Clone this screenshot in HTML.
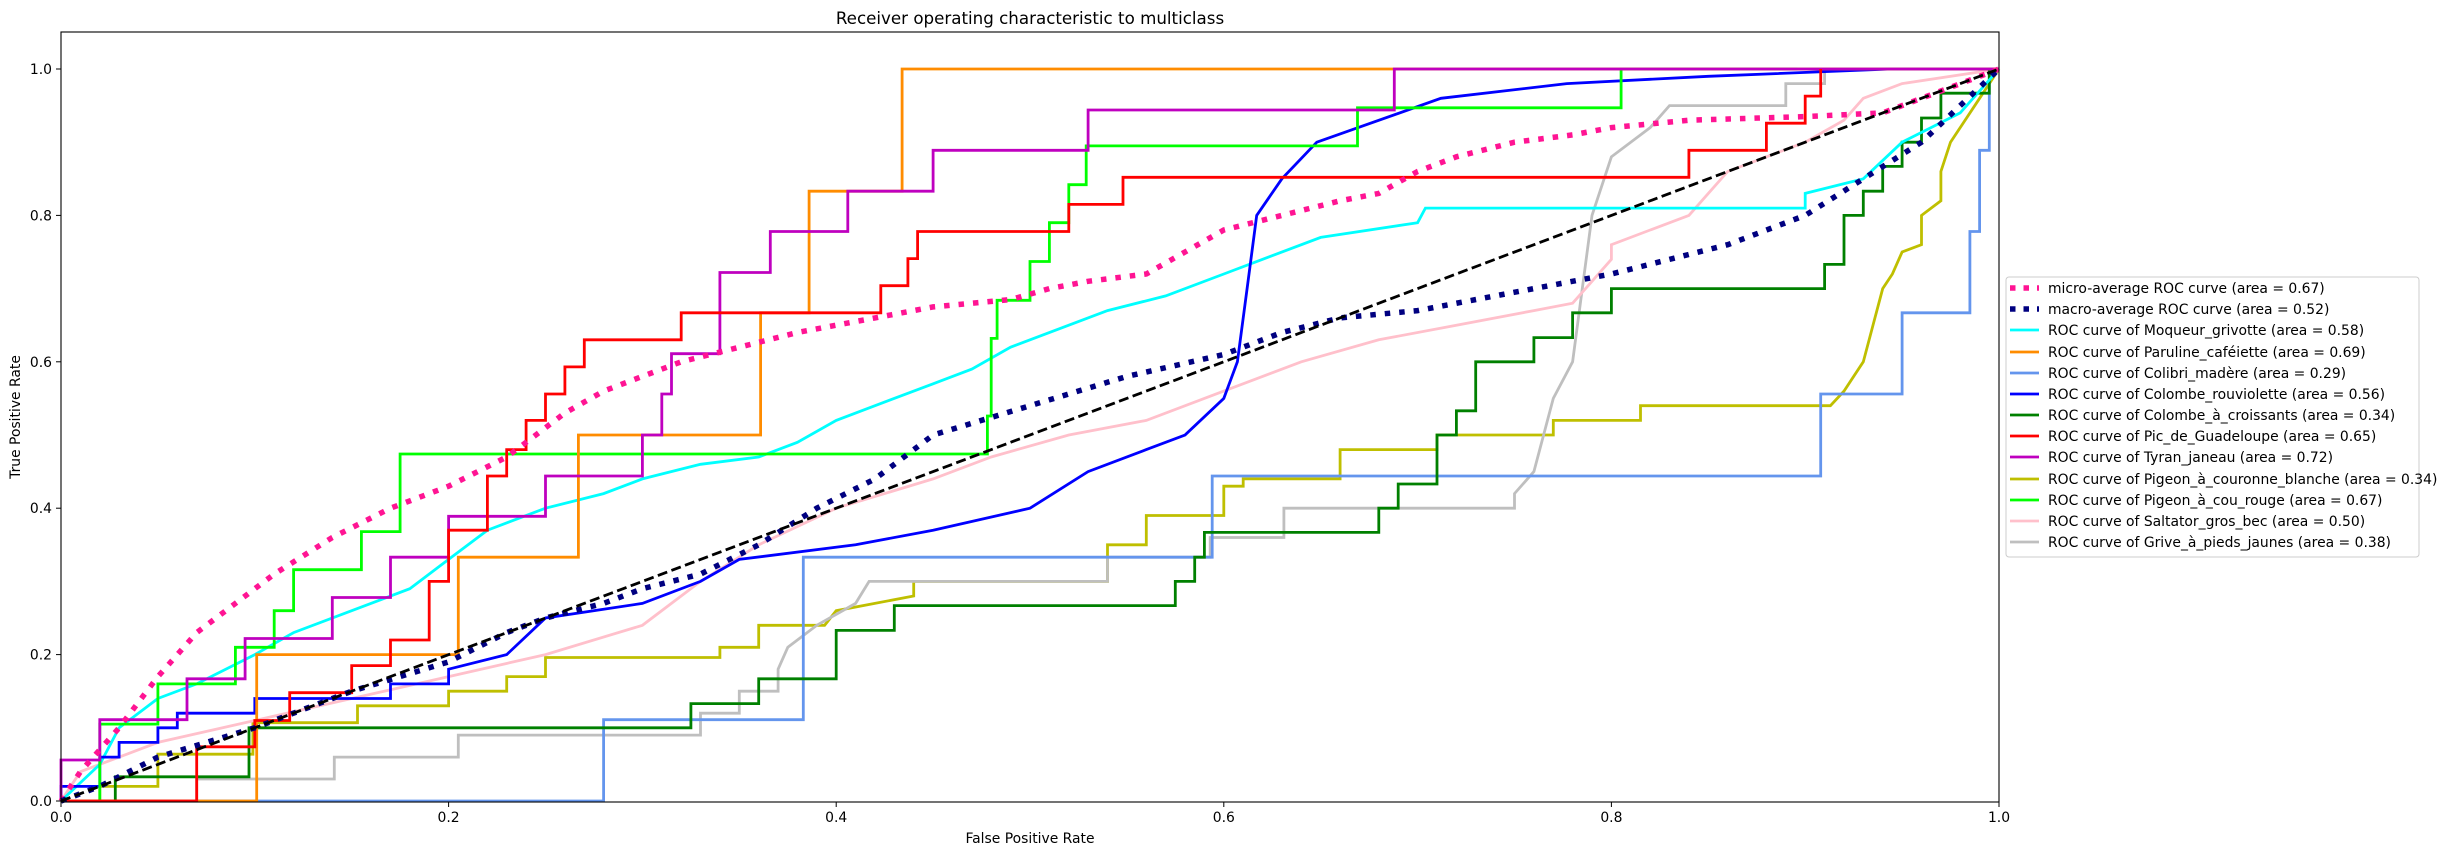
<!DOCTYPE html>
<html><head><meta charset="utf-8"><style>
body{margin:0;background:#fff;}
svg{display:block;font-family:"DejaVu Sans","Liberation Sans",sans-serif;}
</style></head><body>
<svg id="s" width="2455" height="855" xmlns="http://www.w3.org/2000/svg">
<rect width="2455" height="855" fill="#fff"/>
<text x="1030" y="24" font-size="16.7" text-anchor="middle">Receiver operating characteristic to multiclass</text>
<g id="plot"></g>
<rect x="61" y="32" width="1938" height="770" fill="none" stroke="#000" stroke-width="1.1"/>
<g font-size="13.9" fill="#000">
<g stroke="#000" stroke-width="1">
<line x1="61" y1="802" x2="61" y2="807"/><line x1="448.6" y1="802" x2="448.6" y2="807"/><line x1="836.2" y1="802" x2="836.2" y2="807"/><line x1="1223.8" y1="802" x2="1223.8" y2="807"/><line x1="1611.4" y1="802" x2="1611.4" y2="807"/><line x1="1999" y1="802" x2="1999" y2="807"/>
<line x1="56" y1="801" x2="61" y2="801"/><line x1="56" y1="654.6" x2="61" y2="654.6"/><line x1="56" y1="508.2" x2="61" y2="508.2"/><line x1="56" y1="361.8" x2="61" y2="361.8"/><line x1="56" y1="215.4" x2="61" y2="215.4"/><line x1="56" y1="69" x2="61" y2="69"/>
</g>
<g text-anchor="middle"><text x="61" y="822">0.0</text><text x="448.6" y="822">0.2</text><text x="836.2" y="822">0.4</text><text x="1223.8" y="822">0.6</text><text x="1611.4" y="822">0.8</text><text x="1999" y="822">1.0</text></g>
<g text-anchor="end"><text x="52" y="806">0.0</text><text x="52" y="659.6">0.2</text><text x="52" y="513.2">0.4</text><text x="52" y="366.8">0.6</text><text x="52" y="220.4">0.8</text><text x="52" y="74">1.0</text></g>
<text x="1030" y="843" text-anchor="middle">False Positive Rate</text>
<text transform="translate(20,417) rotate(-90)" text-anchor="middle">True Positive Rate</text>
</g>
<rect x="2006" y="277" width="413" height="280" rx="3" fill="#fff" fill-opacity="0.8" stroke="#ccc" stroke-width="1"/>
<g id="leg"></g>
<g font-size="13.9" fill="#000">
<text x="2048" y="293">micro-average ROC curve (area = 0.67)</text>
<text x="2048" y="314">macro-average ROC curve (area = 0.52)</text>
<text x="2048" y="335">ROC curve of Moqueur_grivotte (area = 0.58)</text>
<text x="2048" y="357">ROC curve of Paruline_caféiette (area = 0.69)</text>
<text x="2048" y="378">ROC curve of Colibri_madère (area = 0.29)</text>
<text x="2048" y="399">ROC curve of Colombe_rouviolette (area = 0.56)</text>
<text x="2048" y="420">ROC curve of Colombe_à_croissants (area = 0.34)</text>
<text x="2048" y="441">ROC curve of Pic_de_Guadeloupe (area = 0.65)</text>
<text x="2048" y="462">ROC curve of Tyran_janeau (area = 0.72)</text>
<text x="2048" y="484">ROC curve of Pigeon_à_couronne_blanche (area = 0.34)</text>
<text x="2048" y="505">ROC curve of Pigeon_à_cou_rouge (area = 0.67)</text>
<text x="2048" y="526">ROC curve of Saltator_gros_bec (area = 0.50)</text>
<text x="2048" y="547">ROC curve of Grive_à_pieds_jaunes (area = 0.38)</text>
</g>
</svg>
<script>
var X=function(x){return 61+1938*x},Y=function(y){return 801-732*y};
var S={
micro:[0,0,.01,.04,.03,.1,.05,.17,.07,.23,.09,.27,.11,.31,.14,.36,.17,.4,.2,.43,.23,.47,.25,.51,.26,.53,.28,.56,.3,.58,.32,.6,.35,.62,.38,.64,.42,.66,.45,.675,.49,.685,.51,.7,.53,.71,.56,.72,.58,.75,.6,.78,.63,.8,.66,.82,.68,.83,.7,.86,.72,.88,.75,.9,.78,.91,.8,.92,.84,.93,.9,.935,.94,.94,.97,.97,1,1],
macro:[0,0,.02,.02,.05,.06,.1,.1,.15,.15,.2,.19,.23,.23,.25,.25,.28,.27,.3,.29,.33,.31,.36,.35,.39,.4,.42,.44,.45,.5,.5,.54,.55,.58,.6,.61,.63,.64,.66,.66,.7,.67,.74,.69,.8,.72,.86,.76,.9,.8,.93,.85,.96,.9,.98,.95,1,1],
cyan:[0,0,.02,.05,.03,.1,.05,.14,.07,.16,.1,.2,.12,.23,.15,.26,.18,.29,.2,.33,.22,.37,.25,.4,.28,.42,.3,.44,.33,.46,.36,.47,.38,.49,.4,.52,.42,.54,.45,.57,.47,.59,.49,.62,.52,.65,.54,.67,.57,.69,.6,.72,.62,.74,.65,.77,.7,.79,.704,.81,.9,.81,.9,.83,.93,.85,.95,.9,.98,.94,1,1],
orange:[0,0,.101,0,.101,.2,.205,.2,.205,.333,.267,.333,.267,.5,.361,.5,.361,.667,.386,.667,.386,.833,.434,.833,.434,1,1,1],
corn:[0,0,.28,0,.28,.111,.383,.111,.383,.333,.594,.333,.594,.444,.908,.444,.908,.556,.95,.556,.95,.667,.985,.667,.985,.778,.99,.778,.99,.889,.995,.889,.995,1,1,1],
blue:[0,0,0,.02,.02,.02,.02,.06,.03,.06,.03,.08,.05,.08,.05,.1,.06,.1,.06,.12,.1,.12,.1,.14,.17,.14,.17,.16,.2,.16,.2,.18,.23,.2,.25,.25,.3,.27,.33,.3,.35,.33,.41,.35,.45,.37,.5,.4,.53,.45,.56,.48,.58,.5,.6,.55,.607,.6,.612,.7,.617,.8,.63,.85,.648,.9,.712,.96,.777,.98,.85,.99,.944,1,1,1],
green:[0,0,.028,0,.028,.033,.097,.033,.097,.1,.325,.1,.325,.133,.36,.133,.36,.167,.4,.167,.4,.233,.43,.233,.43,.267,.575,.267,.575,.3,.585,.3,.585,.333,.59,.333,.59,.367,.68,.367,.68,.4,.69,.4,.69,.433,.71,.433,.71,.5,.72,.5,.72,.533,.73,.533,.73,.6,.76,.6,.76,.633,.78,.633,.78,.667,.8,.667,.8,.7,.91,.7,.91,.733,.92,.733,.92,.8,.93,.8,.93,.833,.94,.833,.94,.867,.95,.867,.95,.9,.96,.9,.96,.933,.97,.933,.97,.967,.995,.967,.995,1,1,1],
red:[0,0,.07,0,.07,.074,.1,.074,.1,.11,.118,.11,.118,.148,.15,.148,.15,.185,.17,.185,.17,.22,.19,.22,.19,.3,.2,.3,.2,.37,.22,.37,.22,.444,.23,.444,.23,.48,.24,.48,.24,.52,.25,.52,.25,.556,.26,.556,.26,.593,.27,.593,.27,.63,.32,.63,.32,.667,.423,.667,.423,.704,.437,.704,.437,.741,.442,.741,.442,.778,.52,.778,.52,.815,.548,.815,.548,.852,.84,.852,.84,.889,.88,.889,.88,.926,.9,.926,.9,.963,.908,.963,.908,1],
mag:[0,0,0,.056,.02,.056,.02,.111,.065,.111,.065,.167,.095,.167,.095,.222,.14,.222,.14,.278,.17,.278,.17,.333,.2,.333,.2,.389,.25,.389,.25,.444,.3,.444,.3,.5,.31,.5,.31,.556,.315,.556,.315,.611,.34,.611,.34,.722,.366,.722,.366,.778,.406,.778,.406,.833,.45,.833,.45,.889,.53,.889,.53,.944,.688,.944,.688,1,1,1],
olive:[0,0,.02,0,.02,.02,.05,.02,.05,.064,.099,.064,.099,.107,.153,.107,.153,.13,.2,.13,.2,.15,.23,.15,.23,.17,.25,.17,.25,.196,.34,.196,.34,.21,.36,.21,.36,.24,.394,.24,.4,.26,.44,.28,.44,.3,.54,.3,.54,.35,.56,.35,.56,.39,.6,.39,.6,.43,.61,.43,.61,.44,.66,.44,.66,.48,.71,.48,.71,.5,.77,.5,.77,.52,.815,.52,.815,.54,.913,.54,.92,.56,.93,.6,.935,.65,.94,.7,.945,.72,.95,.75,.96,.76,.96,.8,.97,.82,.97,.86,.975,.9,.98,.92,.99,.96,1,1],
lime:[0,0,.02,0,.02,.105,.05,.105,.05,.16,.09,.16,.09,.21,.11,.21,.11,.26,.12,.26,.12,.316,.155,.316,.155,.368,.175,.368,.175,.474,.478,.474,.478,.526,.48,.526,.48,.632,.483,.632,.483,.684,.5,.684,.5,.737,.51,.737,.51,.79,.52,.79,.52,.842,.529,.842,.529,.895,.669,.895,.669,.947,.805,.947,.805,1,.896,1],
pink:[0,0,.01,.04,.05,.08,.1,.11,.15,.14,.2,.17,.25,.2,.3,.24,.33,.3,.36,.35,.4,.4,.45,.44,.48,.47,.52,.5,.56,.52,.6,.56,.64,.6,.68,.63,.72,.65,.76,.67,.78,.68,.79,.71,.8,.74,.8,.76,.82,.78,.84,.8,.85,.83,.86,.86,.88,.88,.9,.9,.92,.93,.93,.96,.95,.98,1,1],
grey:[0,0,.07,0,.07,.03,.141,.03,.141,.06,.205,.06,.205,.09,.33,.09,.33,.12,.35,.12,.35,.15,.37,.15,.37,.18,.375,.21,.39,.24,.41,.27,.417,.3,.54,.3,.54,.333,.593,.333,.593,.36,.631,.36,.631,.4,.75,.4,.75,.42,.76,.45,.77,.55,.78,.6,.785,.7,.79,.8,.8,.88,.82,.92,.83,.95,.89,.95,.89,.98,.91,.98,.91,1,1,1]};
var C=[['olive','#bfbf00',2.8],['grey','#bfbfbf',2.8],['pink','#ffc0cb',2.8],['corn','#6495ed',2.8],['green','#008000',2.8],['cyan','#00ffff',2.8],['blue','#0000ff',2.8],['lime','#00ff00',2.8],['orange','#ff8c00',2.8],['mag','#bf00bf',2.8],['red','#ff0000',2.8]];
var h='';
function pl(a,col,w,d){var p=[];for(var i=0;i<a.length;i+=2)p.push(X(a[i]).toFixed(1)+','+Y(a[i+1]).toFixed(1));return '<polyline fill="none" stroke="'+col+'" stroke-width="'+w+'" '+(d?'stroke-dasharray="'+d+'" ':'')+'points="'+p.join(' ')+'"/>';}
C.forEach(function(c){h+=pl(S[c[0]],c[1],c[2]);});
h+=pl(S.micro,'#ff1493',5.5,'5.5,9');
h+=pl(S.macro,'#000080',5.5,'5.5,9');
h+=pl([0,0,1,1],'#000',2.8,'10,4.5');
document.getElementById('plot').outerHTML='<g>'+h+'</g>';
var L=[['#ff1493',1],['#000080',1],['#00ffff'],['#ff8c00'],['#6495ed'],['#0000ff'],['#008000'],['#ff0000'],['#bf00bf'],['#bfbf00'],['#00ff00'],['#ffc0cb'],['#bfbfbf']];
var ys=[288,309,330,352,373,394,415,436,457,479,500,521,542],lh='';
L.forEach(function(l,i){lh+='<line x1="2010" x2="2039" y1="'+ys[i]+'" y2="'+ys[i]+'" stroke="'+l[0]+'" stroke-width="'+(l[1]?5.5:2.8)+'"'+(l[1]?' stroke-dasharray="5.5,8"':'')+'/>';});
document.getElementById('leg').outerHTML='<g>'+lh+'</g>';
</script>
</body></html>
